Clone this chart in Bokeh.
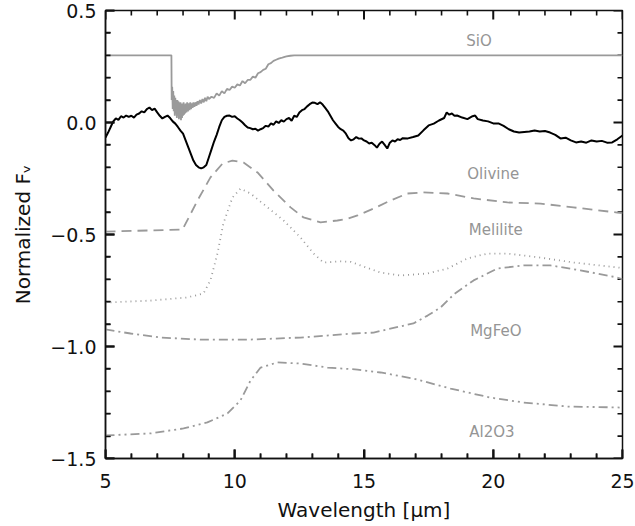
from bokeh.plotting import figure
from bokeh.models import Range1d, FixedTicker
from bokeh.core.properties import value
from bokeh.embed import file_html
from bokeh.resources import INLINE

# ---------------- data ----------------
obs_x = [5.0, 5.1, 5.2, 5.3, 5.4, 5.5, 5.6, 5.7, 5.8, 5.9, 6.0, 6.1, 6.2, 6.3, 6.4, 6.5, 6.6, 6.7, 6.8, 6.9,
         7.0, 7.1, 7.2, 7.3, 7.4, 7.5, 7.6, 7.7, 7.8, 7.9, 8.0, 8.1, 8.2, 8.3, 8.4, 8.5, 8.6, 8.7, 8.8, 8.9,
         9.0, 9.1, 9.2, 9.3, 9.4, 9.5, 9.6, 9.7, 9.8, 9.9, 10.0, 10.1, 10.2, 10.3, 10.4, 10.5, 10.6, 10.7, 10.8, 10.9,
         11.0, 11.1, 11.2, 11.3, 11.4, 11.5, 11.6, 11.7, 11.8, 11.9, 12.0, 12.1, 12.2, 12.3, 12.4, 12.5, 12.6, 12.7, 12.8, 12.9,
         13.0, 13.1, 13.2, 13.3, 13.4, 13.5, 13.6, 13.7, 13.8, 13.9, 14.0, 14.1, 14.2, 14.3, 14.4, 14.5, 14.6, 14.7, 14.8, 14.9,
         15.0, 15.1, 15.2, 15.3, 15.4, 15.5, 15.6, 15.7, 15.8, 15.9, 16.0, 16.1, 16.2, 16.3, 16.4, 16.5, 16.7, 16.9,
         17.1, 17.3, 17.5, 17.7, 17.9, 18.1, 18.2, 18.3, 18.4, 18.5, 18.6, 18.8, 19.0, 19.2, 19.3, 19.4, 19.6, 19.8,
         20.0, 20.2, 20.4, 20.6, 20.8, 21.0, 21.2, 21.4, 21.6, 21.8, 22.0, 22.2, 22.4, 22.6, 22.8, 23.0, 23.2, 23.4, 23.6, 23.8,
         24.0, 24.2, 24.4, 24.6, 24.8, 25.0]
obs_y = [-0.067, -0.045, -0.02, 0.005, 0.018, 0.012, 0.028, 0.022, 0.031, 0.025, 0.03, 0.022, 0.035, 0.04, 0.05, 0.045, 0.06, 0.067, 0.055, 0.062,
         0.045, 0.03, 0.018, 0.025, 0.031, 0.02, 0.005, -0.005, -0.02, -0.036, -0.05, -0.08, -0.11, -0.14, -0.17, -0.19, -0.2, -0.205, -0.2, -0.19,
         -0.155, -0.12, -0.085, -0.055, -0.02, 0.01, 0.025, 0.03, 0.031, 0.025, 0.028, 0.018, 0.01, 0.0, -0.012, -0.022, -0.025, -0.03, -0.028, -0.036,
         -0.03, -0.025, -0.015, -0.018, -0.004, -0.01, 0.005, -0.002, 0.01, 0.004, 0.015, 0.02, 0.008, 0.03, 0.025, 0.045, 0.055, 0.06, 0.072, 0.082,
         0.089, 0.088, 0.082, 0.09, 0.08, 0.065, 0.05, 0.03, 0.01, -0.005, -0.02, -0.03, -0.036, -0.05, -0.07, -0.08, -0.075, -0.065, -0.072, -0.071,
         -0.08, -0.085, -0.094, -0.09, -0.1, -0.112, -0.095, -0.085, -0.1, -0.116, -0.09, -0.08, -0.085, -0.075, -0.078, -0.07, -0.071, -0.065,
         -0.058, -0.035, -0.013, -0.005, 0.009, 0.02, 0.045, 0.035, 0.04, 0.03, 0.031, 0.022, 0.015, 0.028, 0.031, 0.015, 0.009, 0.005,
         -0.004, -0.004, -0.015, -0.03, -0.04, -0.045, -0.042, -0.04, -0.036, -0.04, -0.038, -0.045, -0.055, -0.071, -0.068, -0.08, -0.089, -0.085, -0.09, -0.08,
         -0.085, -0.082, -0.09, -0.089, -0.075, -0.058]

sio_x = [5.0, 7.55,
         7.56, 7.58, 7.60, 7.62, 7.64, 7.66, 7.68, 7.70, 7.72, 7.74, 7.76, 7.78, 7.80, 7.82, 7.84, 7.86, 7.88, 7.90,
         7.92, 7.94, 7.96, 7.98, 8.00, 8.02, 8.04, 8.06, 8.08, 8.10,
         8.13, 8.16, 8.19, 8.22, 8.25, 8.28, 8.31, 8.34, 8.37, 8.40,
         8.44, 8.48, 8.52, 8.56, 8.60,
         8.65, 8.70, 8.75, 8.80, 8.85, 8.90, 8.95, 9.0,
         9.1, 9.2, 9.3, 9.4, 9.5, 9.6, 9.7, 9.8, 9.9, 10.0,
         10.1, 10.2, 10.3, 10.4, 10.5, 10.6, 10.7, 10.8, 10.9, 11.0,
         11.1, 11.2, 11.3, 11.4, 11.5, 11.6, 11.7, 11.8, 11.9, 12.0,
         12.15, 12.3, 25.0]
sio_y = [0.3, 0.3,
         0.10, 0.16, 0.06, 0.14, 0.05, 0.12, 0.03, 0.11, 0.04, 0.10, 0.02, 0.10, 0.03, 0.095, 0.015, 0.09, 0.02, 0.09,
         0.01, 0.085, 0.02, 0.085, 0.03, 0.09, 0.035, 0.08, 0.04, 0.085,
         0.045, 0.09, 0.05, 0.085, 0.055, 0.09, 0.06, 0.085, 0.065, 0.09,
         0.07, 0.09, 0.075, 0.095, 0.08,
         0.10, 0.085, 0.105, 0.09, 0.11, 0.095, 0.115, 0.105,
         0.115, 0.11, 0.13, 0.12, 0.14, 0.13, 0.15, 0.145, 0.16, 0.155,
         0.17, 0.165, 0.185, 0.175, 0.19, 0.19, 0.205, 0.2, 0.22, 0.225,
         0.235, 0.24, 0.26, 0.265, 0.275, 0.28, 0.285, 0.288, 0.292, 0.295,
         0.298, 0.3, 0.3]

olivine_x = [5.0, 7.98, 8.56, 9.06, 9.53, 9.91, 10.34, 10.88, 11.5, 12.16, 12.66, 13.32, 13.97, 14.36, 14.75, 15.37,
             16.03, 16.68, 17.3, 18.23, 19.24, 20.55, 21.83, 23.1, 24.8, 25.0]
olivine_y = [-0.487, -0.478, -0.348, -0.245, -0.183, -0.17, -0.179, -0.223, -0.304, -0.379, -0.424, -0.446, -0.4375, -0.43, -0.415, -0.384,
             -0.348, -0.317, -0.312, -0.317, -0.339, -0.357, -0.362, -0.379, -0.402, -0.405]

melilite_x = [5.0, 6.74, 8.17, 8.79, 9.06, 9.33, 9.56, 9.91, 10.22, 10.61, 11.27, 11.89, 12.54, 13.05, 13.43, 14.09,
              14.5, 14.86, 15.64, 16.41, 17.46, 18.23, 19.0, 19.78, 20.55, 21.83, 23.1, 24.8, 25.0]
melilite_y = [-0.804, -0.795, -0.781, -0.763, -0.705, -0.585, -0.451, -0.335, -0.295, -0.317, -0.379, -0.4375, -0.513, -0.585, -0.625, -0.62,
              -0.622, -0.638, -0.67, -0.683, -0.674, -0.652, -0.607, -0.585, -0.585, -0.603, -0.625, -0.647, -0.65]

mgfeo_x = [5.0, 5.97, 7.13, 8.67, 10.61, 12.54, 14.6, 15.37, 16.91, 17.46, 17.96, 18.5, 19.24, 20.16, 21.17, 22.21, 23.37, 24.8, 25.0]
mgfeo_y = [-0.924, -0.942, -0.96, -0.969, -0.969, -0.96, -0.942, -0.938, -0.897, -0.862, -0.826, -0.765, -0.705, -0.652, -0.638, -0.638, -0.66, -0.692, -0.70]

al2o3_x = [5.0, 6.74, 8.02, 8.94, 9.72, 10.22, 10.61, 11.0, 11.65, 12.54, 13.59, 14.75, 15.64, 16.91, 18.35, 19.89, 21.17, 22.87, 24.8, 25.0]
al2o3_y = [-1.397, -1.388, -1.366, -1.339, -1.299, -1.241, -1.152, -1.094, -1.071, -1.076, -1.094, -1.103, -1.116, -1.143, -1.188, -1.228, -1.25, -1.268, -1.272, -1.273]

label_text = ["SiO", "Olivine", "Melilite", "MgFeO", "Al2O3"]
label_x = [19.45, 20.0, 20.1, 20.1, 19.95]
label_y = [0.366, -0.228, -0.478, -0.933, -1.38]

x_lim = [5, 25]
y_lim = [-1.5, 0.5]
x_major = [5, 10, 15, 20, 25]
x_minor = [6, 7, 8, 9, 11, 12, 13, 14, 16, 17, 18, 19, 21, 22, 23, 24]
y_major = [0.5, 0.0, -0.5, -1.0, -1.5]
y_major_labels = ["0.5", "0.0", "\u22120.5", "\u22121.0", "\u22121.5"]
y_minor = [0.4, 0.3, 0.2, 0.1, -0.1, -0.2, -0.3, -0.4, -0.6, -0.7, -0.8, -0.9, -1.1, -1.2, -1.3, -1.4]

# ---------------- figure ----------------
FONT = "DejaVu Sans"
GRAY = "#9a9a9a"
INK = "#111111"
W, H = 635, 526
BL, BR, BT, BB = 105, 13, 10, 68

p = figure(width=W, height=H, output_backend="svg", toolbar_location=None,
           x_range=Range1d(*x_lim), y_range=Range1d(*y_lim),
           min_border_left=BL, min_border_right=BR, min_border_top=BT, min_border_bottom=BB,
           x_axis_label="Wavelength [\u03bcm]", y_axis_label="Normalized F\u1d65")
p.grid.visible = False
p.outline_line_color = INK
p.outline_line_width = 1.5

p.xaxis.ticker = FixedTicker(ticks=x_major, minor_ticks=x_minor)
p.yaxis.ticker = FixedTicker(ticks=y_major, minor_ticks=y_minor)
p.yaxis.major_label_overrides = {v: s for v, s in zip(y_major, y_major_labels)}

for ax in (p.xaxis[0], p.yaxis[0]):
    ax.axis_line_width = 1.5
    ax.axis_line_color = INK
    ax.major_tick_in = 9
    ax.major_tick_out = 0
    ax.minor_tick_in = 5
    ax.minor_tick_out = 0
    ax.major_tick_line_color = INK
    ax.minor_tick_line_color = INK
    ax.major_tick_line_width = 2
    ax.minor_tick_line_width = 1.6
    ax.major_label_text_font = FONT
    ax.major_label_text_font_size = "19px"
    ax.major_label_text_color = INK
    ax.axis_label_text_font = FONT
    ax.axis_label_text_font_size = "20px"
    ax.axis_label_text_font_style = "normal"
    ax.axis_label_text_color = INK
p.xaxis.major_label_standoff = 15
p.yaxis.major_label_standoff = 9
p.xaxis.axis_label_standoff = 7
p.yaxis.axis_label_standoff = 12

# inward tick marks on top and right sides (mirrors of the axes), plus bottom/left reinforcement
px_x = (x_lim[1] - x_lim[0]) / (W - BL - BR)
px_y = (y_lim[1] - y_lim[0]) / (H - BT - BB)
MAJ, MIN = 9, 5


def ticks_h(xs, y0, sign, n_px, lw):
    p.segment(x0=list(xs), y0=[y0] * len(xs), x1=list(xs), y1=[y0 + sign * n_px * px_y] * len(xs),
              line_color=INK, line_width=lw)


def ticks_v(ys, x0, sign, n_px, lw):
    p.segment(x0=[x0] * len(ys), y0=list(ys), x1=[x0 + sign * n_px * px_x] * len(ys), y1=list(ys),
              line_color=INK, line_width=lw)


ticks_h(x_major, y_lim[0], 1, MAJ, 2)
ticks_h(x_minor, y_lim[0], 1, MIN, 1.6)
ticks_h(x_major, y_lim[1], -1, MAJ, 2)
ticks_h(x_minor, y_lim[1], -1, MIN, 1.6)
ticks_v(y_major, x_lim[0], 1, MAJ, 2)
ticks_v(y_minor, x_lim[0], 1, MIN, 1.6)
ticks_v(y_major, x_lim[1], -1, MAJ, 2)
ticks_v(y_minor, x_lim[1], -1, MIN, 1.6)

# ---------------- curves ----------------
p.line(sio_x, sio_y, line_color=GRAY, line_width=1.8)
p.line(obs_x, obs_y, line_color="black", line_width=2)
p.line(olivine_x, olivine_y, line_color=GRAY, line_width=1.8, line_dash="10 6")
p.line(melilite_x, melilite_y, line_color=GRAY, line_width=1.8, line_dash="1 4")
p.line(mgfeo_x, mgfeo_y, line_color=GRAY, line_width=1.8, line_dash="9 4 2 4")
p.line(al2o3_x, al2o3_y, line_color=GRAY, line_width=1.8, line_dash="9 4 2 4 2 4")

p.text(label_x, label_y, text=label_text, text_font=value(FONT), text_font_size="15px",
       text_color="#959595", text_align="center", text_baseline="middle")

open("out.html", "w").write(file_html(p, INLINE))
